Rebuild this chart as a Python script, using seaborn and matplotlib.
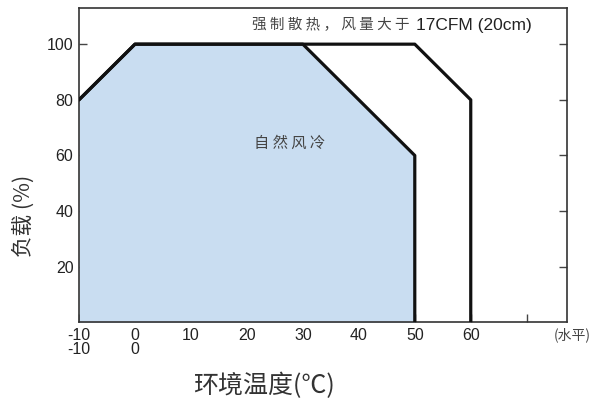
import matplotlib
matplotlib.use("Agg")
import matplotlib.pyplot as plt
import seaborn as sns
import pandas as pd

# derating curves (ambient temp in C vs load in %)
natural_temp = [-10, 0, 30, 50, 50]
natural_load = [80, 100, 100, 60, 0]
forced_temp = [-10, 0, 50, 60, 60]
forced_load = [80, 100, 100, 80, 0]

x_ticks = [-10, 0, 10, 20, 30, 40, 50, 60, 70]
x_tick_labels = ["-10\n-10", "0\n0", "10", "20", "30", "40", "50", "60", ""]
y_ticks = [20, 40, 60, 80, 100]

sns.set_theme(style="white")
num_font = ["Liberation Sans Narrow", "Liberation Sans", "Noto Sans CJK SC"]
cjk_font = ["Noto Sans CJK SC", "DejaVu Sans"]
plt.rcParams["font.family"] = num_font

fig = plt.figure(figsize=(5.95, 4.01), dpi=100)
ax = fig.add_axes([79 / 595, 78.6 / 401, 488 / 595, 314.4 / 401])

nat = pd.DataFrame({"temp": natural_temp, "load": natural_load})
frc = pd.DataFrame({"temp": forced_temp, "load": forced_load})

ax.fill_between(nat["temp"], nat["load"], 0, color="#c9ddf1", linewidth=0, zorder=1)
sns.lineplot(data=frc, x="temp", y="load", sort=False, estimator=None,
             color="#111111", linewidth=2.3, ax=ax, zorder=3)
sns.lineplot(data=nat, x="temp", y="load", sort=False, estimator=None,
             color="#111111", linewidth=2.3, ax=ax, zorder=3)

ax.set_xlim(-10, 77.2)
ax.set_ylim(0, 113)
ax.set_xticks(x_ticks)
ax.set_xticklabels(x_tick_labels, linespacing=0.95)
ax.set_yticks(y_ticks)
ax.tick_params(axis="both", direction="in", length=6, width=1, color="#444444",
               labelsize=11.5, labelcolor="#222222", pad=4)
ax.tick_params(axis="y", right=True, left=True)
ax.tick_params(axis="x", bottom=True)
for s in ax.spines.values():
    s.set_color("#333333")
    s.set_linewidth(1.2)

ax.set_xlabel("")
ax.set_ylabel("")

ax.text(21.3, 64.5, "自 然 风 冷", family=cjk_font, fontsize=11, color="#444444",
        ha="left", va="center")
ax.text(0.355, 0.945, "强 制 散 热 ， 风 量 大 于", family=cjk_font, fontsize=10.5,
        color="#444444", ha="left", va="center", transform=ax.transAxes)
ax.text(0.691, 0.945, "17CFM (20cm)", fontsize=12.5, color="#222222",
        ha="left", va="center", transform=ax.transAxes)

fig.text(572 / 595, 1 - 335 / 401, "(水平)", family=cjk_font, fontsize=10,
         color="#444444", ha="center", va="center")
fig.text(264 / 595, 1 - 386 / 401, "环境温度(℃)", family=cjk_font, fontsize=18,
         color="#333333", ha="center", va="center")
fig.text(24 / 595, 1 - 216 / 401, "负载 (%)", family=cjk_font, fontsize=15.5,
         color="#333333", ha="center", va="center", rotation=90)

fig.savefig("out.png", dpi=100)
